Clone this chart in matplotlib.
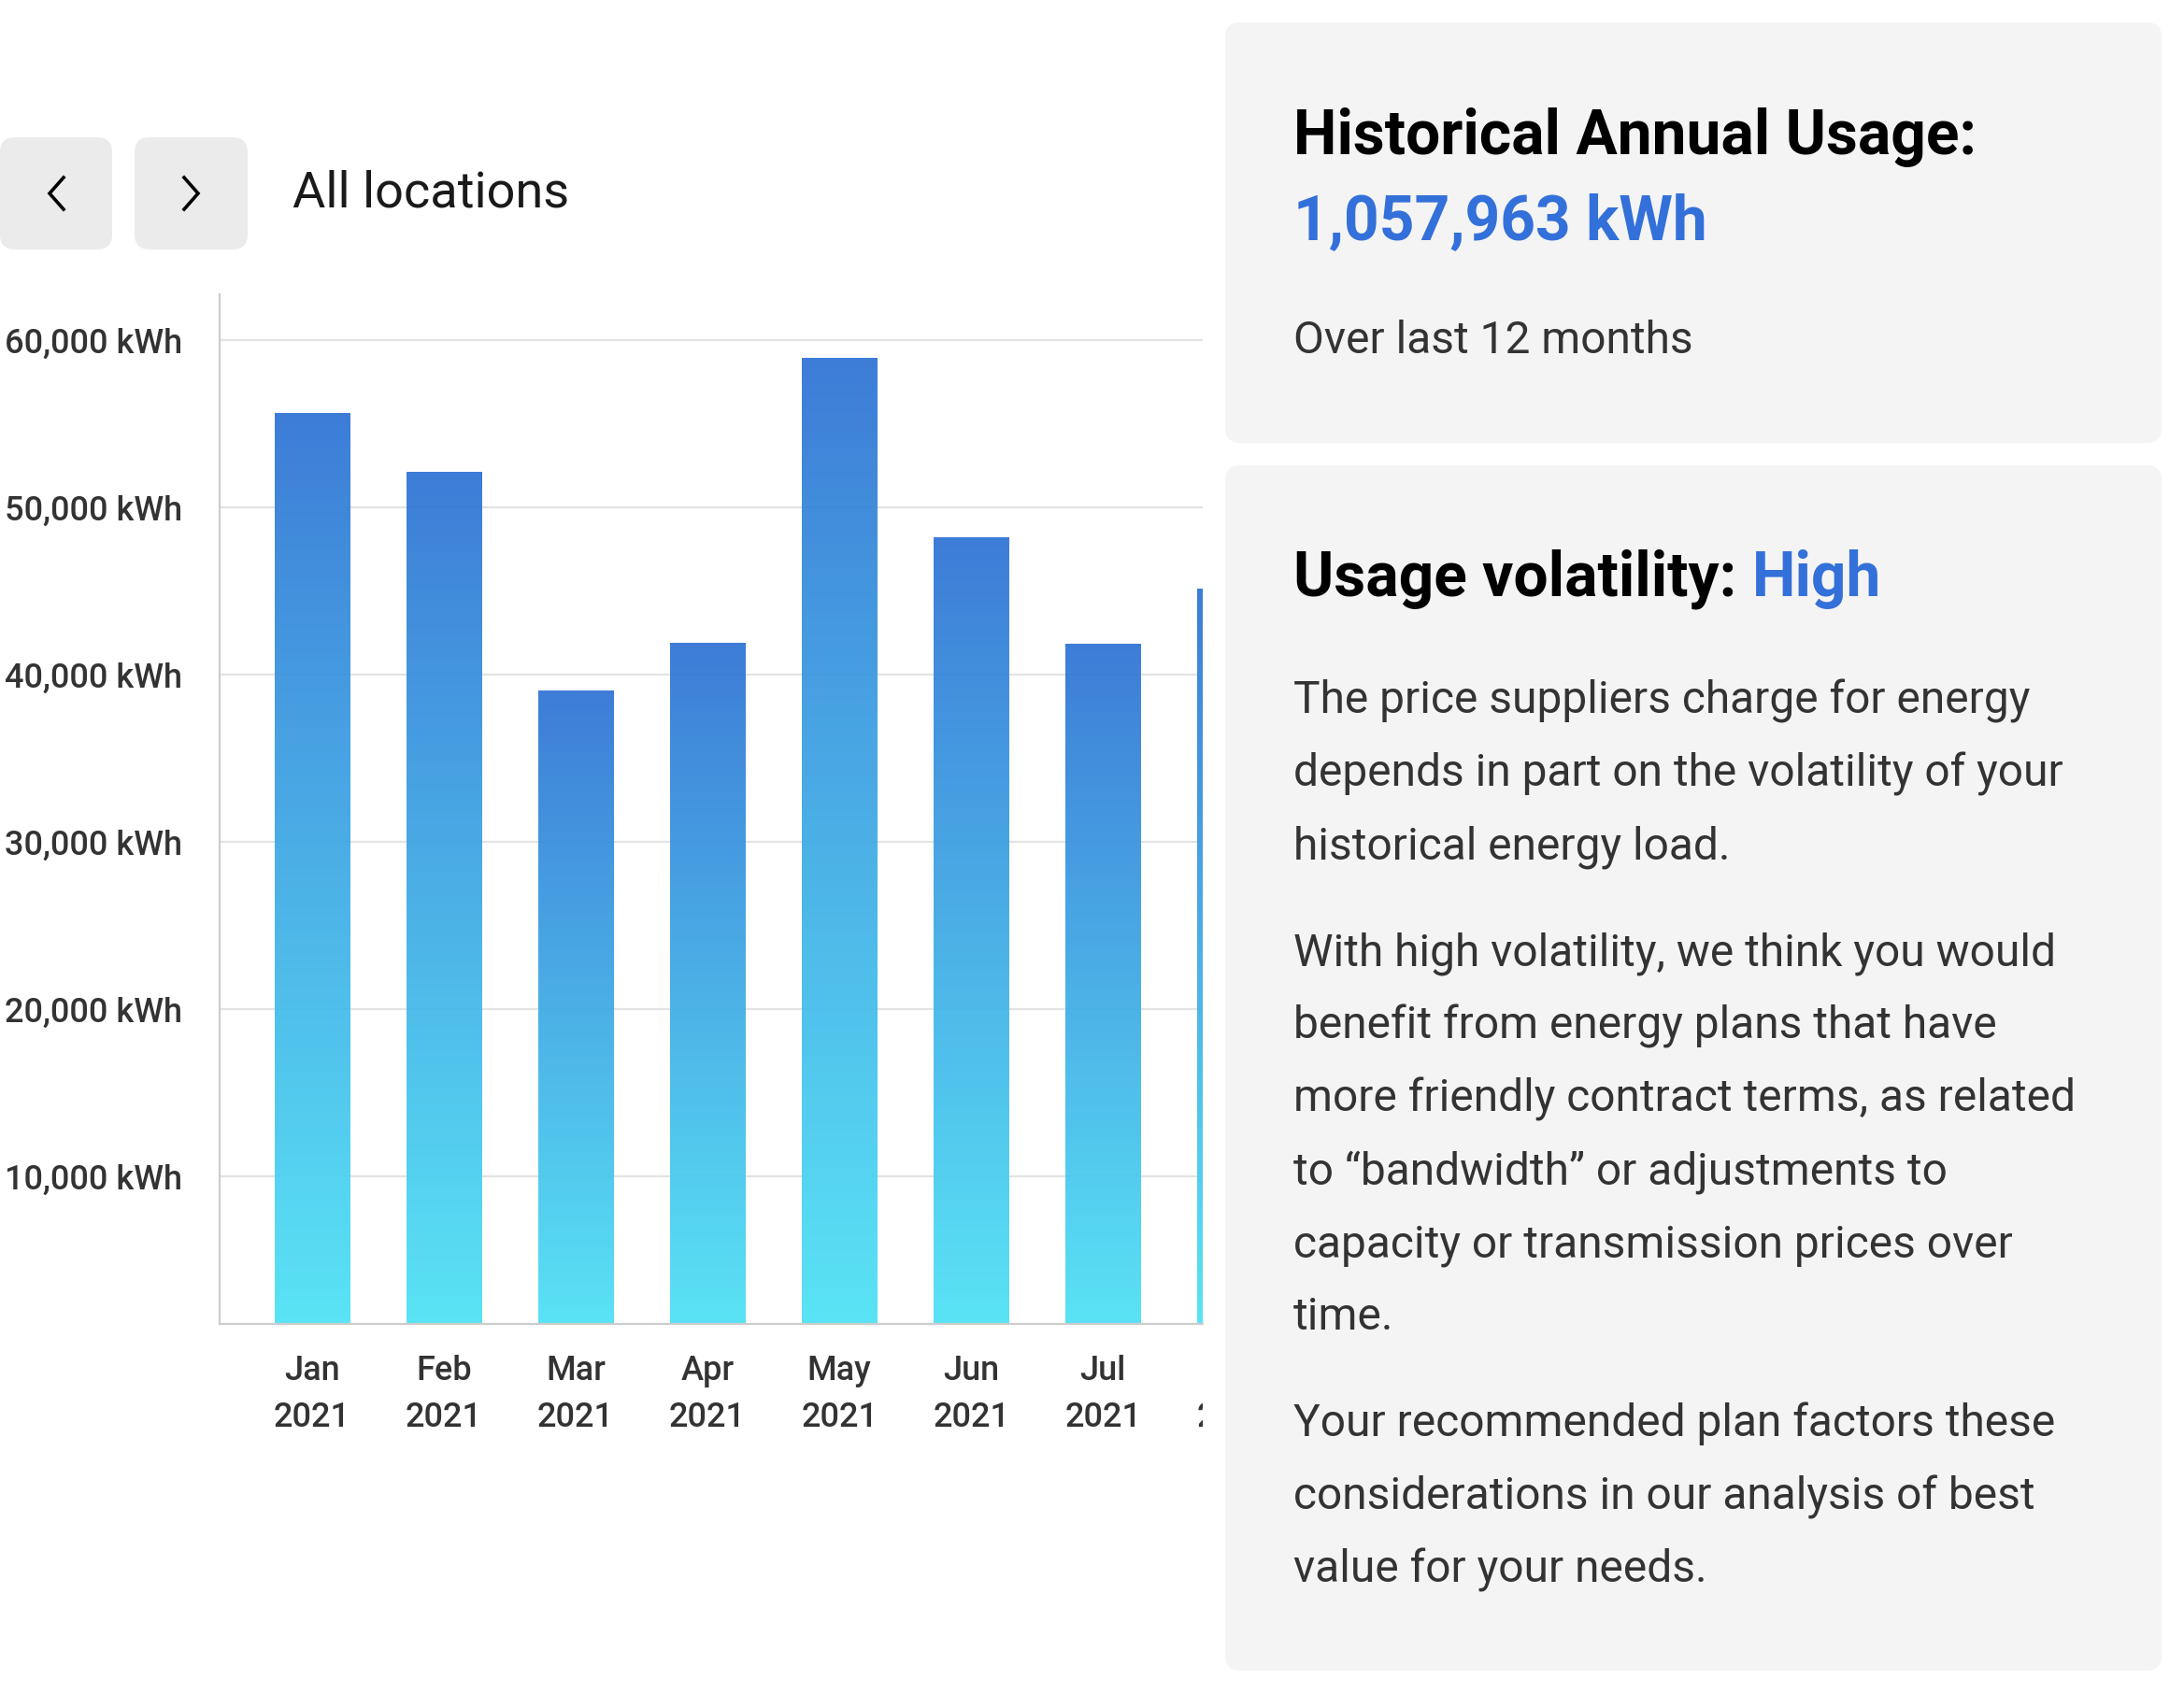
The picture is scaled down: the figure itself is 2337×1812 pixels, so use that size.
import matplotlib
matplotlib.use("Agg")
import matplotlib.pyplot as plt
import numpy as np
from matplotlib.patches import FancyBboxPatch
from matplotlib.transforms import Bbox, TransformedBbox
from matplotlib.colors import LinearSegmentedColormap

# data
months = ["Jan", "Feb", "Mar", "Apr", "May", "Jun", "Jul", "Aug"]
years = ["2021", "2021", "2021", "2021", "2021", "2021", "2021", "2021"]
usage_kwh = [55600, 52100, 39000, 41900, 58900, 48200, 41800, 45100]
y_ticks = [10000, 20000, 30000, 40000, 50000, 60000]
y_tick_labels = ["10,000 kWh", "20,000 kWh", "30,000 kWh",
                 "40,000 kWh", "50,000 kWh", "60,000 kWh"]
annual_total = "1,057,963 kWh"
volatility = "High"
paragraphs = [
    ["The price suppliers charge for energy",
     "depends in part on the volatility of your",
     "historical energy load."],
    ["With high volatility, we think you would",
     "benefit from energy plans that have",
     "more friendly contract terms, as related",
     "to \u201cbandwidth\u201d or adjustments to",
     "capacity or transmission prices over",
     "time."],
    ["Your recommended plan factors these",
     "considerations in our analysis of best",
     "value for your needs."],
]

plt.rcParams['font.family'] = ['Roboto', 'DejaVu Sans']

W, H = 2337, 1812
fig = plt.figure(figsize=(W / 100, H / 100), dpi=100)

# background layer in pixel coordinates
bg = fig.add_axes([0, 0, 1, 1], zorder=0)
bg.set_xlim(0, W)
bg.set_ylim(H, 0)
bg.axis('off')


def box(x0, y0, x1, y1, color, r):
    bg.add_patch(FancyBboxPatch((x0 + r, y0 + r), x1 - x0 - 2 * r, y1 - y0 - 2 * r,
                                boxstyle=f"round,pad={r}", fc=color, ec='none'))


# nav buttons
box(0, 147, 120, 267, '#ebebeb', 16)
box(144, 147, 265, 267, '#ebebeb', 16)
bg.plot([68, 53, 68], [190, 207, 224], color='black', lw=2.6, solid_joinstyle='miter')
bg.plot([197, 212, 197], [190, 207, 224], color='black', lw=2.6, solid_joinstyle='miter')
bg.text(313, 207, "All locations", fontsize=39, color='#1a1a1a', va='center')

# right panels
box(1311, 24, 2313, 474, '#f4f4f4', 16)
box(1311, 498, 2313, 1788, '#f4f4f4', 16)

tx = 1384
bg.text(tx, 165, "Historical Annual Usage:", fontsize=47.4, weight='bold',
        color='black', va='baseline')
bg.text(tx, 256, annual_total, fontsize=47.4, weight='bold',
        color='#3370d9', va='baseline')
bg.text(tx, 378, "Over last 12 months", fontsize=34.5, color='#333333', va='baseline')
t = bg.text(tx, 638, "Usage volatility:", fontsize=47.4, weight='bold',
            color='black', va='baseline')
bg.annotate(volatility, xy=(1, 0), xycoords=t, xytext=(12, 0),
            textcoords='offset points', fontsize=47.4, weight='bold',
            color='#3370d9', va='bottom')

yy = 763
for para in paragraphs:
    for line in para:
        bg.text(tx, yy, line, fontsize=34.5, color='#333333', va='baseline')
        yy += 78
    yy += 114 - 78

# bar chart
ax = fig.add_axes([235 / W, 1 - 1417 / H, (1287 - 235) / W, (1417 - 315) / H], zorder=1)
x = np.arange(len(months))
bars = ax.bar(x, usage_kwh, width=0.57, color='none', zorder=2)
grad = np.linspace(0, 1, 256).reshape(-1, 1)
cmap = LinearSegmentedColormap.from_list('bars', ['#4ee4f6', '#2e73d5'])
for b in bars:
    x0, w, h = b.get_x(), b.get_width(), b.get_height()
    ax.imshow(grad, extent=(x0, x0 + w, 0, h), origin='lower', aspect='auto',
              cmap=cmap, alpha=0.93, zorder=2)

ax.set_yticks(y_ticks, y_tick_labels)
ax.set_xticks(x[:-1], [m + "\n" + yr for m, yr in zip(months[:-1], years[:-1])])
ax.set_xlim(-0.70, 6.756)
ax.set_ylim(1170, 62740)
ax.grid(axis='y', color='#e3e3e3', lw=1.6, zorder=0)
ax.grid(axis='x', visible=False)
ax.set_axisbelow(True)
for s in ['top', 'right']:
    ax.spines[s].set_visible(False)
for s in ['left', 'bottom']:
    ax.spines[s].set_color('#cccccc')
    ax.spines[s].set_linewidth(1.6)

ax.tick_params(axis='both', length=0, labelsize=26, labelcolor='#333333')
ax.tick_params(axis='y', pad=29)
ax.tick_params(axis='x', pad=24)

for lab in ax.get_xticklabels():
    lab.set_fontweight('medium')
    lab.set_linespacing(1.56)
for lab in ax.get_yticklabels():
    lab.set_fontweight('medium')

# last month sits past the right edge: its label is cut at the axes edge
clip = TransformedBbox(Bbox([[0, 0], [1287 / W, 1]]), fig.transFigure)
last = ax.annotate(months[-1] + "\n" + years[-1], xy=(x[-1], 0),
                   xycoords=('data', 'axes fraction'), xytext=(0, -24),
                   textcoords='offset points', ha='center', va='top',
                   fontsize=26, fontweight='medium', color='#333333',
                   linespacing=1.56, annotation_clip=False)
last.set_clip_box(clip)
last.set_clip_on(True)

fig.savefig('out.png', dpi=100)
